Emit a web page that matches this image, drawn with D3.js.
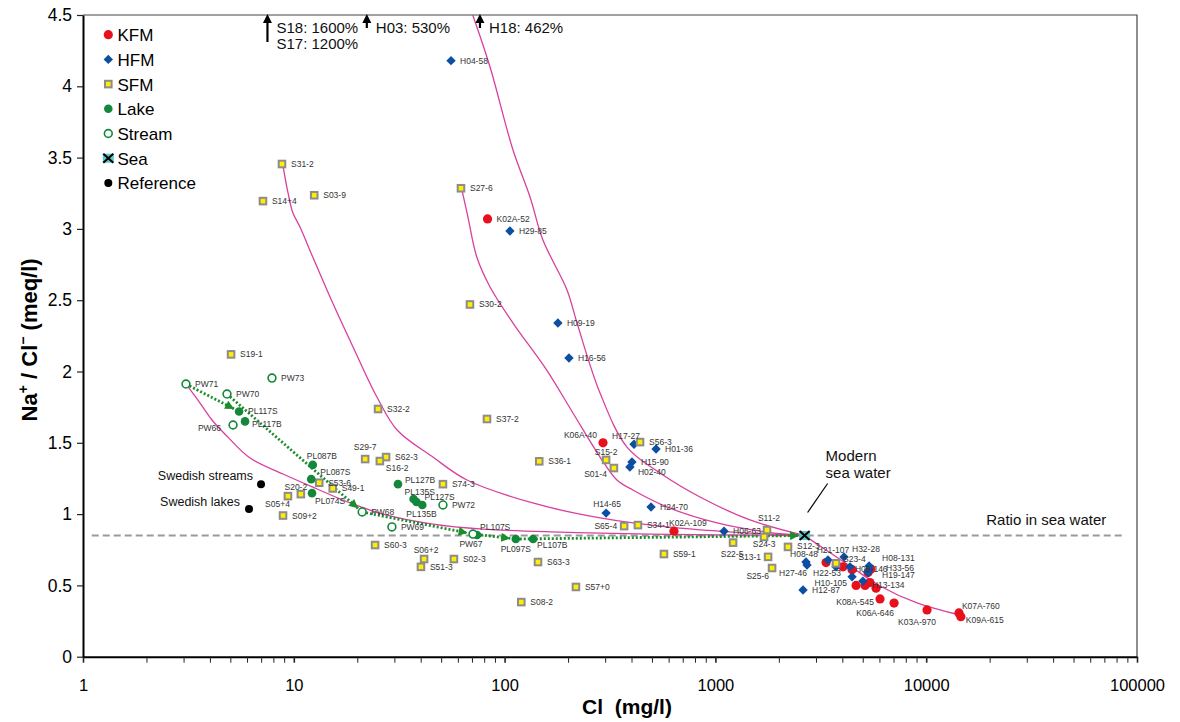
<!DOCTYPE html>
<html>
<head>
<meta charset="utf-8">
<script src="https://cdn.jsdelivr.net/npm/d3@7/dist/d3.min.js"></script>
<style>
  html, body { margin: 0; padding: 0; background: #fff; }
  svg { display: block; font-family: "Liberation Sans", Arial, Helvetica, sans-serif; }
</style>
</head>
<body>
<svg id="chart" width="1180" height="722"></svg>
<script>
// ---------- sample data: [label, Cl (mg/l), Na/Cl (meq/l)] ----------
const kfm = [
  ["K02A-52", 83, 3.07], ["K06A-40", 293, 1.50], ["K02A-109", 636, 0.88],
  ["", 3350, 0.66], ["", 3750, 0.645], ["", 4030, 0.63], ["", 4450, 0.61], ["", 4650, 0.50],
  ["", 5130, 0.50], ["", 5300, 0.59], ["", 5470, 0.615], ["", 5410, 0.52], ["", 5780, 0.48],
  ["K08A-545", 6040, 0.405], ["K06A-646", 7040, 0.376], ["K03A-970", 10090, 0.328],
  ["K07A-760", 14300, 0.307], ["K09A-615", 14600, 0.28]
];
const hfm = [
  ["H04-58", 55.7, 4.18], ["H29-85", 106, 2.985], ["H09-19", 179, 2.34], ["H16-56", 202, 2.095],
  ["H17-27", 411, 1.49], ["H01-36", 523, 1.456], ["H15-90", 402, 1.365], ["H02-40", 393, 1.33],
  ["H14-65", 303, 1.007], ["H24-70", 495, 1.05], ["H06-63", 1099, 0.88],
  ["H08-48", 2690, 0.664], ["H27-46", 2720, 0.643], ["H12-87", 2605, 0.468],
  ["H21-107", 3420, 0.678], ["H32-28", 4075, 0.70], ["H22-53", 3735, 0.63], ["H05-146", 4350, 0.63],
  ["H10-105", 4450, 0.56], ["H13-134", 5010, 0.53], ["H08-131", 5360, 0.636],
  ["H33-56", 5360, 0.61], ["H19-147", 5300, 0.59]
];
const sfm = [
  ["S31-2", 8.79, 3.455], ["S14+4", 7.14, 3.195], ["S03-9", 12.5, 3.236], ["S27-6", 62.1, 3.285],
  ["S30-2", 68.5, 2.47], ["S19-1", 5.04, 2.12], ["S32-2", 25.1, 1.737], ["S37-2", 82.5, 1.667],
  ["S36-1", 146, 1.37], ["S56-3", 439, 1.505], ["S15-2", 303, 1.38], ["S01-4", 330, 1.323],
  ["S29-7", 21.8, 1.386], ["S62-3", 27.4, 1.40], ["S16-2", 25.6, 1.372], ["S74-3", 51.0, 1.21],
  ["S53-6", 13.2, 1.22], ["S49-1", 15.3, 1.18], ["S20-2", 10.8, 1.14], ["S05+4", 9.38, 1.126],
  ["S09+2", 8.89, 0.99], ["S60-3", 24.3, 0.783], ["S06+2", 41.5, 0.685], ["S51-3", 40.1, 0.63],
  ["S02-3", 57.5, 0.685], ["S63-3", 144, 0.664], ["S57+0", 218, 0.489], ["S08-2", 120, 0.383],
  ["S65-4", 369, 0.916], ["S34-1", 429, 0.923], ["S59-1", 570, 0.72], ["S11-2", 1757, 0.888],
  ["S22-5", 1213, 0.80], ["S24-3", 1702, 0.84], ["S13-1", 1778, 0.70], ["S25-6", 1857, 0.622],
  ["S12-3", 2210, 0.77], ["S23-4", 3734, 0.655]
];
const lake = [
  ["PL117S", 5.50, 1.72], ["PL117B", 5.87, 1.65], ["PL087B", 12.3, 1.345], ["PL087S", 12.1, 1.245],
  ["PL074S", 12.2, 1.147], ["PL127B", 31.2, 1.21], ["PL135S", 37.0, 1.106], ["PL127S", 38.2, 1.085],
  ["PL135B", 40.7, 1.064], ["PL107S", 74, 0.853], ["PL097S", 113, 0.825], ["PL107B", 136.5, 0.825]
];
const stream = [
  ["PW71", 3.08, 1.912], ["PW70", 4.82, 1.842], ["PW66", 5.15, 1.625], ["PW73", 7.88, 1.954],
  ["PW68", 21.1, 1.015], ["PW69", 29.2, 0.91], ["PW72", 51, 1.064], ["PW67", 70.8, 0.86]
];
const sea = [["Sea", 2650, 0.85]];
const reference = [["Swedish streams", 6.99, 1.21], ["Swedish lakes", 6.13, 1.035]];

// Na/Cl ratio of sea water and the Cl range of its reference line
const seaRatio = 0.85;
const seaLineSpan = [1.1, 88000];

// mixing lines between end-members: [Cl, Na/Cl]
const mixStreamSea = [[3.08,1.912],[3.51,1.80],[4.09,1.66],[4.87,1.54],[6.20,1.393],[8.89,1.281],
  [12.9,1.176],[18.5,1.078],[26.5,1.00],[45.7,0.93],[79,0.895],[183,0.874],[490,0.86],[2650,0.85]];
const mixS31Sea = [[8.86,3.455],[9.39,3.252],[9.91,3.111],[10.7,3.013],[12.3,2.803],[15.3,2.48],
  [19.1,2.172],[24.8,1.821],[30.9,1.59],[45.7,1.40],[66.3,1.239],[136,1.078],[284,0.973],
  [589,0.91],[1213,0.874],[2650,0.85]];
const mixS27Sea = [[62.6,3.28],[67,3.083],[73.8,2.803],[85.3,2.593],[109.6,2.34],[158.4,2.01],
  [211,1.709],[283.6,1.40],[341,1.239],[406,1.169],[589,1.05],[1018,0.938],[1757,0.874],[2650,0.85]];
const mixH18Sea = [[70.6,4.5],[85.3,4.135],[109.6,3.553],[132,3.224],[152,2.922],[197.7,2.572],
  [220.6,2.34],[283.6,1.849],[380.7,1.47],[546,1.288],[845,1.12],[1459,0.959],[2650,0.85]];
const mixSeaK09 = [[2650,0.85],[3239,0.762],[4350,0.636],[6039,0.496],[9045,0.377],[14466,0.292]];

// surface-water flow paths (from, to)
const flowPaths = [["PW71","PL117S"],["PW70","PW68"],["PW68","PW67"],["PW67","PL097S"],["PL097S","Sea"]];

// samples above the plotted range
const offScale = [
  { cl: 7.5,  text: ["S18: 1600%", "S17: 1200%"] },
  { cl: 22.2, text: ["H03: 530%"] },
  { cl: 76.4, text: ["H18: 462%"] }
];

// axis ticks
const xMajor = [1, 10, 100, 1000, 10000, 100000];
const yTicks = [0, 0.5, 1, 1.5, 2, 2.5, 3, 3.5, 4, 4.5];

// legend entries
const legendItems = [
  ["KFM", "kfm"], ["HFM", "hfm"], ["SFM", "sfm"], ["Lake", "lake"],
  ["Stream", "stream"], ["Sea", "sea"], ["Reference", "ref"]
];

// ---------- label placement: [dx, dy, anchor] relative to the marker ----------
const labelPlace = {
  "K06A-40":[-6,-8,"end"], "K02A-109":[-5,-8,"start"], "K08A-545":[-6,3,"end"],
  "K06A-646":[0,10,"end"], "K03A-970":[-10,12,"middle"], "K07A-760":[3,-7,"start"],
  "K09A-615":[5,3,"start"],
  "H17-27":[6,-8,"end"], "H02-40":[8,5,"start"], "H14-65":[1,-9,"middle"],
  "H08-48":[-2,-8,"middle"], "H27-46":[0,8,"end"], "H21-107":[5,-10,"middle"],
  "H32-28":[8,-8,"start"], "H22-53":[-9,6,"middle"], "H05-146":[5,2,"start"],
  "H10-105":[-5,6,"end"], "H13-134":[9,4,"start"], "H08-131":[13,-8,"start"],
  "H33-56":[17,-2,"start"], "H19-147":[14,2,"start"],
  "S15-2":[0,-8,"middle"], "S01-4":[-7,6,"end"], "S29-7":[0,-12,"middle"],
  "S16-2":[6,7,"start"], "S20-2":[-5,-7,"middle"], "S05+4":[2,8,"end"],
  "S06+2":[2,-9,"middle"], "S65-4":[-7,0,"end"], "S11-2":[2,-12,"middle"],
  "S22-5":[-1,11,"middle"], "S24-3":[0,7,"middle"], "S13-1":[-7,0,"end"],
  "S25-6":[-3,8,"end"], "S12-3":[9,-1,"start"], "S23-4":[7,-4,"start"],
  "PL117B":[7,3,"start"], "PL087B":[-6,-9,"start"], "PL087S":[9,-7,"start"],
  "PL074S":[3,8,"start"], "PL127B":[7,-4,"start"], "PL135S":[-9,-7,"start"],
  "PL127S":[8,-5,"start"], "PL135B":[-16,9,"start"], "PL107S":[3,-8,"start"],
  "PL097S":[0,10,"middle"], "PL107B":[4,6,"start"],
  "PW66":[-12,3,"end"], "PW67":[-2,10,"middle"]
};

// ---------- colours ----------
const C = {
  red: "#e8101c", blue: "#0c4fa1", yellow: "#ffee00", sfmEdge: "#8c8c8c",
  green: "#13873a", flow: "#1b8d2b", mix: "#d9409e", seaFill: "#5cc6c8", grey: "#9a9a9a"
};

// ---------- scales ----------
const svg = d3.select("#chart");
const x = d3.scaleLog().domain([1, 1e5]).range([83, 1137]);
const y = d3.scaleLinear().domain([0, 4.5]).range([656.7, 15]);

// ---------- plot frame ----------
svg.append("path")
  .attr("d", `M${x(1)},${y(4.5)}H${x(1e5)}V${y(0)}`)
  .attr("fill", "none").attr("stroke", "#444").attr("stroke-width", 1.2);

// ---------- axes ----------
const xMinor = [];
for (let p = 0; p < 5; p++) for (let m = 1; m < 10; m++) xMinor.push(m * Math.pow(10, p));
xMinor.push(1e5);

const gx = svg.append("g").attr("transform", `translate(0,${y(0)})`)
  .call(d3.axisBottom(x).tickValues(xMinor).tickSize(6).tickSizeOuter(0).tickPadding(17)
    .tickFormat(d => xMajor.includes(d) ? d3.format("d")(d) : ""));
gx.select(".domain").attr("stroke", "#000").attr("stroke-width", 2);
gx.selectAll(".tick line").attr("stroke", "#222").attr("stroke-width", d => xMajor.includes(d) ? 1.6 : 1);
gx.selectAll(".tick text").attr("font-size", 16.5).attr("fill", "#000")
  .attr("font-family", "'Liberation Sans', Arial, sans-serif");

const gy = svg.append("g").attr("transform", `translate(${x(1)},0)`)
  .call(d3.axisLeft(y).tickValues(yTicks).tickSize(6).tickSizeOuter(0).tickPadding(5)
    .tickFormat(d => String(d)));
gy.select(".domain").attr("stroke", "#000").attr("stroke-width", 2);
gy.selectAll(".tick line").attr("stroke", "#222").attr("stroke-width", 1.2);
gy.selectAll(".tick text").attr("font-size", 17.5).attr("fill", "#000")
  .attr("font-family", "'Liberation Sans', Arial, sans-serif");

// axis titles
const yTitle = svg.append("text")
  .attr("transform", `translate(37,${(y(0) + y(4.5)) / 2 + 4}) rotate(-90)`)
  .attr("text-anchor", "middle").attr("font-size", 22).attr("font-weight", "bold").attr("fill", "#000");
yTitle.append("tspan").text("Na");
yTitle.append("tspan").attr("dy", -9).attr("font-size", 14).text("+");
yTitle.append("tspan").attr("dy", 9).text(" / Cl");
yTitle.append("tspan").attr("dy", -9).attr("font-size", 14).text("\u2212");
yTitle.append("tspan").attr("dy", 9).text(" (meq/l)");

svg.append("text")
  .attr("x", 627).attr("y", 714)
  .attr("text-anchor", "middle").attr("font-size", 21).attr("font-weight", "bold").attr("fill", "#000")
  .text("Cl\u00a0 (mg/l)");

// ---------- sea-water ratio line ----------
svg.append("line")
  .attr("x1", x(seaLineSpan[0])).attr("x2", x(seaLineSpan[1]))
  .attr("y1", y(seaRatio)).attr("y2", y(seaRatio))
  .attr("stroke", C.grey).attr("stroke-width", 2).attr("stroke-dasharray", "7,4");

svg.append("text")
  .attr("x", x(seaLineSpan[1]) - 19).attr("y", y(seaRatio) - 10)
  .attr("text-anchor", "end").attr("font-size", 15).attr("fill", "#111")
  .text("Ratio in sea water");

// ---------- mixing lines ----------
const mixLine = d3.line().x(d => x(d[0])).y(d => y(d[1])).curve(d3.curveCatmullRom.alpha(0.5));
[mixStreamSea, mixS31Sea, mixS27Sea, mixH18Sea, mixSeaK09].forEach(pts => {
  svg.append("path").attr("d", mixLine(pts))
    .attr("fill", "none").attr("stroke", C.mix).attr("stroke-width", 1.3);
});

// ---------- flow paths ----------
const allPts = {};
[kfm, hfm, sfm, lake, stream, sea, reference].forEach(arr => arr.forEach(d => { if (d[0]) allPts[d[0]] = d; }));

svg.append("defs").append("marker")
  .attr("id", "flowHead").attr("viewBox", "0 0 10 10").attr("refX", 10).attr("refY", 5)
  .attr("markerWidth", 11).attr("markerHeight", 9).attr("markerUnits", "userSpaceOnUse")
  .attr("orient", "auto")
  .append("path").attr("d", "M0,0L10,5L0,10Z").attr("fill", C.flow);

flowPaths.forEach(([a, b]) => {
  const p = allPts[a], q = allPts[b];
  const x1 = x(p[1]), y1 = y(p[2]), x2 = x(q[1]), y2 = y(q[2]);
  const len = Math.hypot(x2 - x1, y2 - y1);
  const ux = (x2 - x1) / len, uy = (y2 - y1) / len;
  const gap = 5.5;
  svg.append("line")
    .attr("x1", x1 + ux * 4).attr("y1", y1 + uy * 4)
    .attr("x2", x2 - ux * gap).attr("y2", y2 - uy * gap)
    .attr("stroke", C.flow).attr("stroke-width", 2.8).attr("stroke-dasharray", "2,2")
    .attr("marker-end", "url(#flowHead)");
});

// ---------- markers ----------
function drawSymbol(g, kind, cx, cy) {
  if (kind === "kfm") {
    g.append("circle").attr("cx", cx).attr("cy", cy).attr("r", 4.6).attr("fill", C.red);
  } else if (kind === "hfm") {
    const s = 4.7;
    g.append("path").attr("d", `M${cx},${cy - s}L${cx + s},${cy}L${cx},${cy + s}L${cx - s},${cy}Z`).attr("fill", C.blue);
  } else if (kind === "sfm") {
    g.append("rect").attr("x", cx - 3.3).attr("y", cy - 3.3).attr("width", 6.6).attr("height", 6.6)
      .attr("fill", C.yellow).attr("stroke", C.sfmEdge).attr("stroke-width", 2);
  } else if (kind === "lake") {
    g.append("circle").attr("cx", cx).attr("cy", cy).attr("r", 4.3).attr("fill", C.green);
  } else if (kind === "stream") {
    g.append("circle").attr("cx", cx).attr("cy", cy).attr("r", 3.9).attr("fill", "#fff")
      .attr("stroke", C.green).attr("stroke-width", 1.6);
  } else if (kind === "sea") {
    g.append("rect").attr("x", cx - 5.5).attr("y", cy - 4.5).attr("width", 11).attr("height", 9).attr("fill", C.seaFill);
    g.append("path").attr("d", `M${cx - 5},${cy - 4.5}L${cx + 5},${cy + 4.5}M${cx + 5},${cy - 4.5}L${cx - 5},${cy + 4.5}`)
      .attr("stroke", "#000").attr("stroke-width", 2);
  } else if (kind === "ref") {
    g.append("circle").attr("cx", cx).attr("cy", cy).attr("r", 4).attr("fill", "#000");
  }
}

const gMarks = svg.append("g");
const groups = [["kfm", kfm], ["hfm", hfm], ["sfm", sfm], ["lake", lake], ["stream", stream], ["sea", sea], ["ref", reference]];
groups.forEach(([kind, arr]) => arr.forEach(d => drawSymbol(gMarks, kind, x(d[1]), y(d[2]))));

// ---------- point labels ----------
const gLab = svg.append("g");
groups.forEach(([kind, arr]) => {
  if (kind === "sea" || kind === "ref") return;
  arr.forEach(d => {
    if (!d[0]) return;
    const [dx, dy, anchor] = labelPlace[d[0]] || [9, 0, "start"];
    gLab.append("text")
      .attr("x", x(d[1]) + dx).attr("y", y(d[2]) + dy + 3)
      .attr("text-anchor", anchor).attr("font-size", 8.5).attr("fill", "#333")
      .text(d[0]);
  });
});

// reference labels
const refPlace = { "Swedish streams": [-8, -9], "Swedish lakes": [-9, -8] };
reference.forEach(d => {
  const [dx, dy] = refPlace[d[0]];
  svg.append("text")
    .attr("x", x(d[1]) + dx).attr("y", y(d[2]) + dy + 4.5)
    .attr("text-anchor", "end").attr("font-size", 12.5).attr("fill", "#111")
    .text(d[0]);
});

// modern sea water annotation
{
  const sx = x(sea[0][1]), sy = y(sea[0][2]);
  svg.append("line").attr("x1", sx + 3).attr("y1", sy - 23).attr("x2", sx + 23).attr("y2", sy - 52)
    .attr("stroke", "#000").attr("stroke-width", 1.2);
  svg.append("text").attr("x", sx + 21).attr("y", sy - 74).attr("font-size", 15).attr("fill", "#111").text("Modern");
  svg.append("text").attr("x", sx + 21).attr("y", sy - 57).attr("font-size", 15).attr("fill", "#111").text("sea water");
}

// ---------- off-scale arrows ----------
offScale.forEach(o => {
  const ax = x(o.cl), top = y(4.5);
  const len = o.text.length > 1 ? 27 : 13;
  svg.append("line").attr("x1", ax).attr("x2", ax).attr("y1", top + 6).attr("y2", top + len)
    .attr("stroke", "#000").attr("stroke-width", 2.2);
  svg.append("path").attr("d", `M${ax},${top - 1}L${ax + 4.5},${top + 8}L${ax - 4.5},${top + 8}Z`).attr("fill", "#000");
  o.text.forEach((t, i) => {
    svg.append("text").attr("x", ax + 9).attr("y", top + 18 + i * 16)
      .attr("font-size", 15).attr("fill", "#111").text(t);
  });
});

// ---------- legend ----------
const gLeg = svg.append("g");
legendItems.forEach(([name, kind], i) => {
  const ly = 34.7 + i * 24.7;
  drawSymbol(gLeg, kind, 108.3, ly);
  gLeg.append("text").attr("x", 117.5).attr("y", ly + 6.5)
    .attr("font-size", 17).attr("fill", "#000").text(name);
});
</script>
</body>
</html>
